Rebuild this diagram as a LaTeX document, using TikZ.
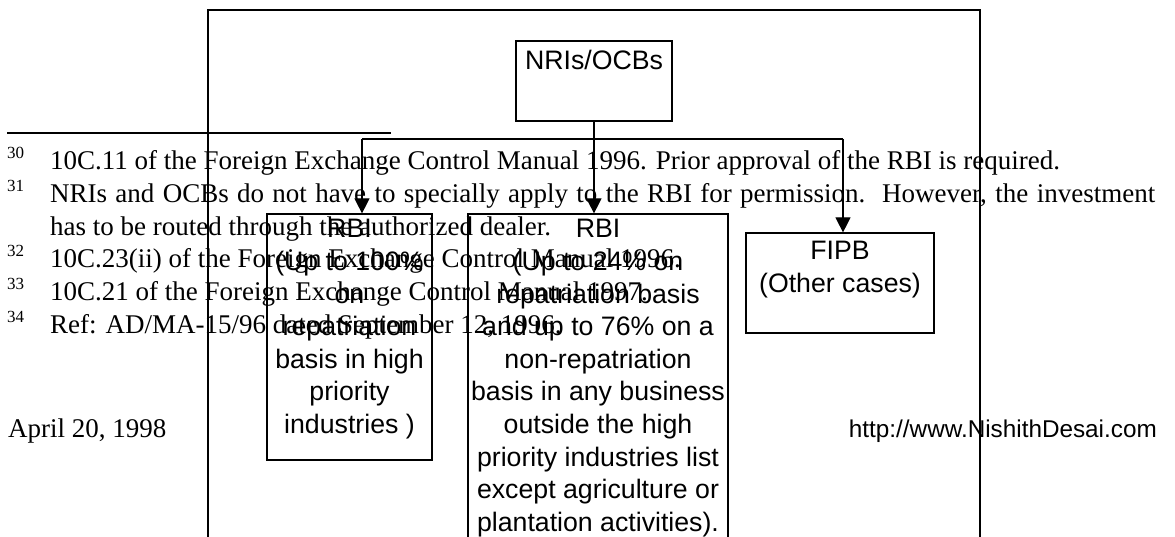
\documentclass[tikz,border=0pt]{standalone}
\usepackage{fontspec}
\setmainfont{Liberation Serif}
\newfontfamily\arialfont{Liberation Sans}
\usetikzlibrary{arrows.meta, calc}
\tikzset{
    flowbox/.style = {draw, line width=1.2pt, inner sep=0pt},
    boxtext/.style = {font=\arialfont\fontsize{26.7}{32.6}\selectfont, align=center, inner sep=0pt, anchor=north},
    fntext/.style = {font=\fontsize{27}{32.6}\selectfont, inner sep=0pt, anchor=base west},
    fnmark/.style = {font=\fontsize{17}{20}\selectfont, inner sep=0pt, anchor=base west},
    flowarrow/.style = {-{Triangle[width=15pt,length=15pt]}, line width=1.2pt},
}
\begin{document}
\begin{tikzpicture}[x=1pt, y=-1pt]
\useasboundingbox (0,0) rectangle (1175,537);
\clip (0,0) rectangle (1175,537);
% frame round the chart
\draw[line width=1.2pt] (208,560) -- (208,10) -- (980,10) -- (980,560);

\node[flowbox, minimum width=156pt, minimum height=80pt] (nri) at (594,81) {};
\node[boxtext] (nritext) at ($(nri.north)+(0,9.5)$) {NRIs/OCBs};

\node[flowbox, minimum width=165pt, minimum height=246pt] (rbi1) at (349.5,337) {};
\node[boxtext] (rbi1text) at ($(rbi1.north)+(0,6)$) {RBI\\(Up to 100\%\\on\\repatriation\\basis in high\\priority\\industries )};

\node[flowbox, minimum width=260pt, minimum height=400pt] (rbi2) at (598,414) {};
\node[boxtext] (rbi2text) at ($(rbi2.north)+(0,6)$) {RBI\\(Up to 24\% on\\repatriation basis\\and up to 76\% on a\\non-repatriation\\basis in any business\\outside the high\\priority industries list\\except agriculture or\\plantation activities).};

\node[flowbox, minimum width=188pt, minimum height=100pt] (fipb) at (840,283) {};
\node[boxtext] (fipbtext) at ($(fipb.north)+(0,9)$) {FIPB\\(Other cases)};

\coordinate (barw) at (362,139);
\coordinate (bare) at (843,139);
\draw[line width=1.2pt] (barw) -- (bare);
\draw[flowarrow] (nri.south) -- (nri.south |- rbi2.north);
\draw[flowarrow] (barw) -- (barw |- rbi1.north);
\draw[flowarrow] (bare) -- (bare |- fipb.north);

% footnotes
\draw[line width=1.3pt] (7,133) -- (391,133);
\node[fnmark] (m30) at (7,159) {30};
\node[fntext] (f30) at (50,170) {10C.11 of the Foreign Exchange Control Manual 1996. Prior approval of the RBI is required.};
\node[fnmark] (m31) at (7,191.6) {31};
\node[fntext] (f31) at (50,202.6) {\makebox[1105pt][s]{NRIs and OCBs do not have to specially apply to the RBI for permission.\ \ However, the investment}};
\node[fntext] (f31b) at (50,235.2) {has to be routed through the authorized dealer.};
\node[fnmark] (m32) at (7,256.8) {32};
\node[fntext] (f32) at (50,267.8) {10C.23(ii) of the Foreign Exchange Control Manual 1996.};
\node[fnmark] (m33) at (7,289.4) {33};
\node[fntext] (f33) at (50,300.4) {10C.21 of the Foreign Exchange Control Manual 1997.};
\node[fnmark] (m34) at (7,322) {34};
\node[fntext] (f34) at (50,333) {Ref: AD/MA-15/96 dated September 12, 1996.};

\node[fntext] (date) at (8,437) {April 20, 1998};
\node[font=\arialfont\fontsize{24.3}{28}\selectfont, inner sep=0pt, anchor=base east] (url) at (1157,437) {http://www.NishithDesai.com};
\end{tikzpicture}
\end{document}
